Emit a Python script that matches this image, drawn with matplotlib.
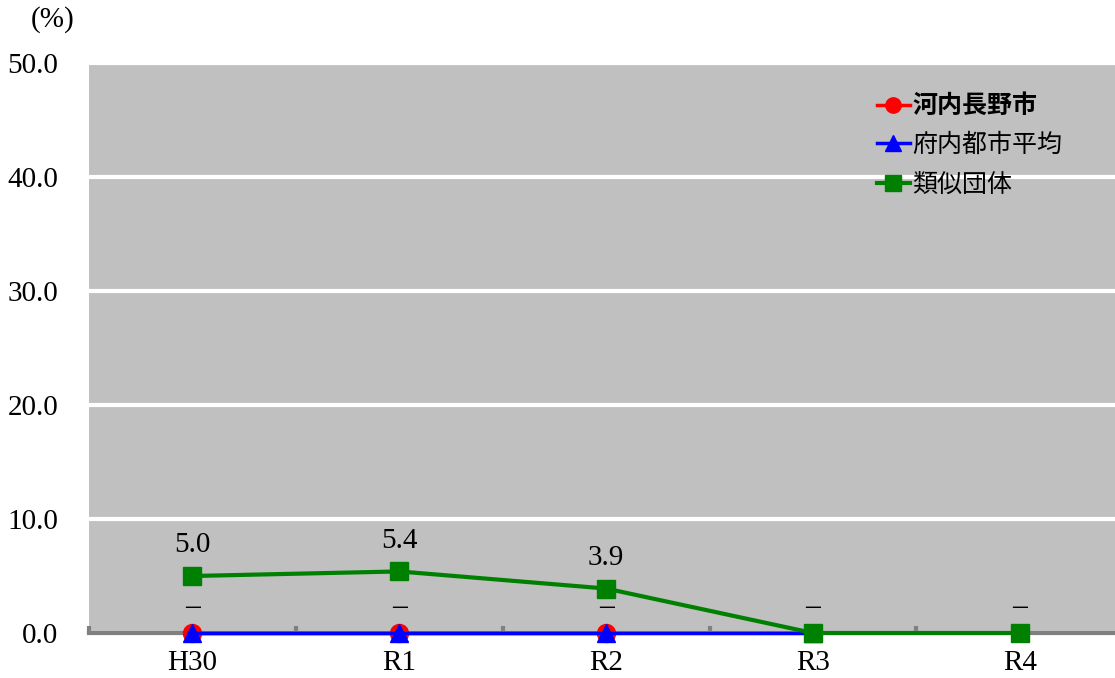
import matplotlib.pyplot as plt
import numpy as np

plt.rcParams['font.family'] = ['Liberation Serif', 'Noto Sans CJK JP', 'DejaVu Sans']

years = ["H30", "R1", "R2", "R3", "R4"]
kawachinagano = [0.0, 0.0, 0.0, np.nan, np.nan]
fu_average = [0.0, 0.0, 0.0, 0.0, np.nan]
similar_group = [5.0, 5.4, 3.9, 0.0, 0.0]
dash_labels = ["－", "－", "－", "－", "－"]
y_ticks = [0, 10, 20, 30, 40, 50]

x = np.arange(len(years))

fig = plt.figure(figsize=(11.15, 6.78), dpi=100)
ax = fig.add_axes([89 / 1115, 45 / 678, 1026 / 1115, 570 / 678])
ax.set_facecolor("#c0c0c0")

ax.plot(x, kawachinagano, color="#ff0000", lw=2.5, marker="o", ms=13, label="河内長野市",
        zorder=3, clip_on=False)
ax.plot(x, fu_average, color="#0000ff", lw=2.5, marker="^", ms=13, label="府内都市平均",
        zorder=4, clip_on=False)
ax.plot(x, similar_group, color="#008000", lw=3, marker="s", ms=13, label="類似団体",
        zorder=5, clip_on=False)

for xi, lab in zip(x, dash_labels):
    ax.annotate(lab, (xi, 0), xytext=(0, 17), textcoords="offset points",
                ha="center", va="center", fontsize=15, family="Noto Sans CJK JP")
for xi, v in zip(x, similar_group):
    if v > 0:
        ax.annotate(f"{v:.1f}", (xi, v), xytext=(0, 22), textcoords="offset points",
                    ha="center", va="center", fontsize=21)

ax.set_xlim(-0.5, 4.46)
ax.set_ylim(0, 50)
ax.set_yticks(y_ticks)
ax.set_yticklabels([f"{t:.1f}" for t in y_ticks], fontsize=21)
ax.tick_params(axis="y", length=0, pad=22)
ax.set_xticks(x)
ax.set_xticklabels(years, fontsize=21)
ax.tick_params(axis="x", length=0, pad=12)
ax.set_xticks(np.arange(-0.5, 4.5, 1.0), minor=True)
ax.tick_params(axis="x", which="minor", direction="in", length=5, width=3, color="#808080")

ax.grid(axis="y", color="white", lw=3)
ax.set_axisbelow(True)
for s in ["left", "right", "top"]:
    ax.spines[s].set_visible(False)
ax.spines["bottom"].set_color("#808080")
ax.spines["bottom"].set_linewidth(3)
ax.spines["bottom"].set_zorder(2)

leg = ax.legend(loc="upper left", bbox_to_anchor=(0.756, 0.967), frameon=False, borderpad=0,
                prop={"family": "Noto Sans CJK JP", "size": 18},
                handlelength=1.3, handletextpad=0.1, labelspacing=0.55, markerscale=0.85)
leg.get_texts()[0].set_fontweight("bold")

fig.text(53 / 1115, 1 - 20 / 678, "(%)", ha="center", va="center", fontsize=21)

fig.savefig("out.png", dpi=100)
